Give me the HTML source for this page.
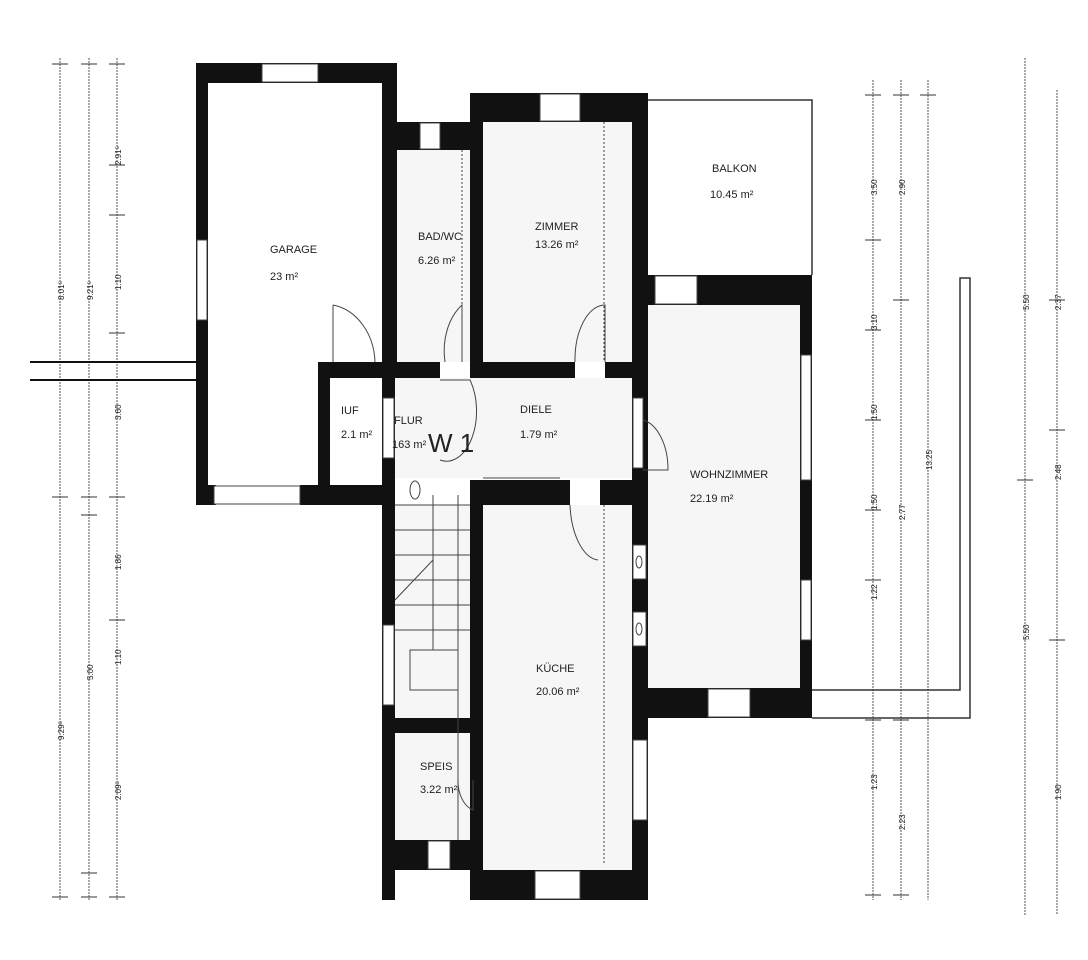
<!DOCTYPE html>
<html><head><meta charset="utf-8"><style>
html,body{margin:0;padding:0;background:#fff;}
svg{display:block}
text{font-family:"Liberation Sans",sans-serif;fill:#222;}
.l{font-size:11px;transform-box:fill-box;}
.d{font-size:8px;fill:#444}
</style></head><body>
<svg width="1088" height="960" viewBox="0 0 1088 960" xmlns="http://www.w3.org/2000/svg">
<rect width="1088" height="960" fill="#fff"/>
<!-- floor fills -->
<g fill="#f6f6f6">
<rect x="395" y="150" width="75" height="212"/>
<rect x="483" y="122" width="149" height="240"/>
<rect x="395" y="378" width="237" height="100"/>
<rect x="483" y="505" width="149" height="365"/>
<rect x="648" y="305" width="152" height="383"/>
<rect x="395" y="505" width="75" height="213"/>
<rect x="395" y="733" width="75" height="107"/>
</g>
<!-- dimension lines -->
<g stroke="#555" stroke-width="1" stroke-dasharray="2,1">
<line x1="60" y1="58" x2="60" y2="900"/>
<line x1="89" y1="58" x2="89" y2="900"/>
<line x1="117" y1="58" x2="117" y2="900"/>
<line x1="873" y1="80" x2="873" y2="900"/>
<line x1="901" y1="80" x2="901" y2="900"/>
<line x1="928" y1="80" x2="928" y2="900"/>
<line x1="1025" y1="58" x2="1025" y2="915"/>
<line x1="1057" y1="90" x2="1057" y2="915"/>
</g>
<g stroke="#333" stroke-width="1">
<path d="M52 64h16M81 64h16M109 64h16M52 497h16M81 497h16M109 497h16M52 897h16M81 897h16M109 897h16M109 165h16M109 215h16M109 333h16M109 620h16M81 873h16M81 515h16"/>
<path d="M865 95h16M893 95h16M920 95h16M865 240h16M865 330h16M865 420h16M865 510h16M865 580h16M865 720h16M893 720h16M893 300h16M865 895h16M893 895h16M1017 480h16M1049 640h16M1049 430h16M1049 300h16"/>
</g>
<g class="d">
<text transform="translate(64 300) rotate(-90)">8.01⁵</text>
<text transform="translate(93 300) rotate(-90)">9.21⁵</text>
<text transform="translate(121 165) rotate(-90)">2.91⁵</text>
<text transform="translate(121 290) rotate(-90)">1.10</text>
<text transform="translate(121 420) rotate(-90)">3.60</text>
<text transform="translate(121 570) rotate(-90)">1.86</text>
<text transform="translate(121 665) rotate(-90)">1.10</text>
<text transform="translate(121 800) rotate(-90)">2.09⁵</text>
<text transform="translate(64 740) rotate(-90)">9.29⁵</text>
<text transform="translate(93 680) rotate(-90)">5.00</text>
<text transform="translate(877 195) rotate(-90)">3.50</text>
<text transform="translate(905 195) rotate(-90)">2.90</text>
<text transform="translate(877 330) rotate(-90)">3.10</text>
<text transform="translate(877 420) rotate(-90)">1.50</text>
<text transform="translate(877 510) rotate(-90)">1.50</text>
<text transform="translate(877 600) rotate(-90)">1.22</text>
<text transform="translate(877 790) rotate(-90)">1.23</text>
<text transform="translate(905 520) rotate(-90)">2.77</text>
<text transform="translate(932 470) rotate(-90)">13.25</text>
<text transform="translate(905 830) rotate(-90)">2.23</text>
<text transform="translate(1029 310) rotate(-90)">5.50</text>
<text transform="translate(1029 640) rotate(-90)">5.50</text>
<text transform="translate(1061 310) rotate(-90)">2.37</text>
<text transform="translate(1061 480) rotate(-90)">2.48</text>
<text transform="translate(1061 800) rotate(-90)">1.90</text>
</g>
<!-- stubs / outlines -->
<g stroke="#111" stroke-width="2" fill="none">
<line x1="30" y1="362" x2="196" y2="362"/>
<line x1="30" y1="380" x2="196" y2="380"/>
</g>
<g stroke="#333" stroke-width="1.5" fill="none">
<path d="M648 100H812V275"/>
<path d="M812 690H960V278H970V718H812"/>
</g>
<!-- walls -->
<g fill="#111">
<rect x="196" y="63" width="12" height="442"/>
<rect x="196" y="63" width="201" height="20"/>
<rect x="382" y="63" width="15" height="300"/>
<rect x="196" y="485" width="20" height="20"/>
<rect x="300" y="485" width="95" height="20"/>
<rect x="382" y="122" width="100" height="28"/>
<rect x="470" y="93" width="13" height="270"/>
<rect x="470" y="93" width="178" height="29"/>
<rect x="632" y="93" width="16" height="280"/>
<rect x="640" y="275" width="172" height="30"/>
<rect x="800" y="275" width="12" height="443"/>
<rect x="640" y="688" width="172" height="30"/>
<rect x="632" y="370" width="16" height="530"/>
<rect x="318" y="362" width="122" height="16"/>
<rect x="470" y="362" width="105" height="16"/>
<rect x="605" y="362" width="43" height="16"/>
<rect x="318" y="362" width="12" height="143"/>
<rect x="382" y="378" width="13" height="522"/>
<rect x="470" y="480" width="100" height="25"/>
<rect x="600" y="480" width="48" height="25"/>
<rect x="470" y="480" width="13" height="420"/>
<rect x="470" y="870" width="178" height="30"/>
<rect x="382" y="718" width="100" height="15"/>
<rect x="382" y="840" width="100" height="30"/>
</g>
<!-- windows -->
<g fill="#fff" stroke="#444" stroke-width="1">
<rect x="262" y="64" width="56" height="18"/>
<rect x="420" y="123" width="20" height="26"/>
<rect x="540" y="94" width="40" height="27"/>
<rect x="655" y="276" width="42" height="28"/>
<rect x="801" y="355" width="10" height="125"/>
<rect x="801" y="580" width="10" height="60"/>
<rect x="708" y="689" width="42" height="28"/>
<rect x="535" y="871" width="45" height="28"/>
<rect x="428" y="841" width="22" height="28"/>
<rect x="633" y="740" width="14" height="80"/>
<rect x="197" y="240" width="10" height="80"/>
<rect x="383" y="625" width="11" height="80"/>
<rect x="214" y="486" width="86" height="18"/>
<rect x="383" y="398" width="11" height="60"/>
<rect x="633" y="398" width="10" height="70"/>
<rect x="633" y="545" width="13" height="34"/>
<rect x="633" y="612" width="13" height="34"/>
</g>
<g fill="none" stroke="#444" stroke-width="1">
<ellipse cx="639" cy="562" rx="3" ry="6"/><ellipse cx="639" cy="629" rx="3" ry="6"/>
<path d="M333 362V305"/><path d="M333 305A50 60 0 0 1 375 362"/>
<path d="M462 362V305A40 55 0 0 0 445 362"/>
<path d="M605 362V305A30 55 0 0 0 575 362"/>
<path d="M643 420A30 50 0 0 1 668 470H643"/>
<path d="M598 560A30 60 0 0 1 570 505"/>
<path d="M440 380H470A30 50 0 0 1 440 460"/>
<path d="M458 780A20 30 0 0 0 473 810V780"/>
<path d="M395 505H470M395 530H470M395 555H470M395 580H470M395 605H470M395 630H470"/>
<path d="M433 495V650M458 495V840M395 600L433 560M410 650H458V690H410Z"/>
<ellipse cx="415" cy="490" rx="5" ry="9"/>
<path d="M483 478H560"/>
<line x1="604" y1="122" x2="604" y2="362" stroke-dasharray="2,2"/>
<line x1="604" y1="505" x2="604" y2="865" stroke-dasharray="2,2"/>
<line x1="462" y1="150" x2="462" y2="362" stroke-dasharray="2,2"/>
</g>
<!-- labels -->
<g class="l">
<text x="270" y="253" style="font-size:11px">GARAGE</text>
<text x="270" y="280">23 m²</text>
<text x="418" y="240">BAD/WC</text>
<text x="418" y="264">6.26 m²</text>
<text x="535" y="230">ZIMMER</text>
<text x="535" y="248">13.26 m²</text>
<text x="712" y="172">BALKON</text>
<text x="710" y="198">10.45 m²</text>
<text x="341" y="414">IUF</text>
<text x="341" y="438">2.1 m²</text>
<text x="394" y="424">FLUR</text>
<text x="392" y="448">163 m²</text>
<text x="428" y="452" style="font-size:26px">W 1</text>
<text x="520" y="413">DIELE</text>
<text x="520" y="438">1.79 m²</text>
<text x="690" y="478">WOHNZIMMER</text>
<text x="690" y="502">22.19 m²</text>
<text x="536" y="672">KÜCHE</text>
<text x="536" y="695">20.06 m²</text>
<text x="420" y="770">SPEIS</text>
<text x="420" y="793">3.22 m²</text>
</g>
</svg>
</body></html>
